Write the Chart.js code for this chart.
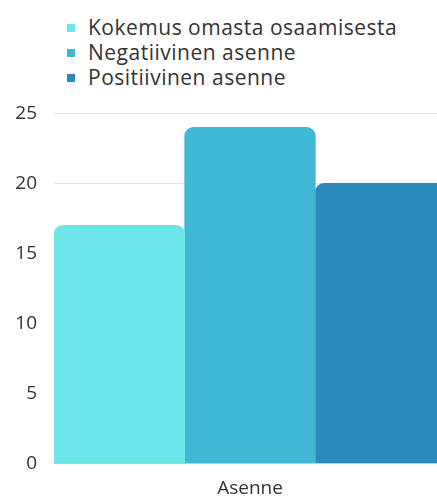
<!DOCTYPE html>
<html>
<head>
<meta charset="utf-8">
<script src="https://cdn.jsdelivr.net/npm/chart.js@4.4.0/dist/chart.umd.min.js"></script>
<style>
  html, body { margin: 0; padding: 0; background: #fff; overflow: hidden; width: 437px; height: 498px; }
  #legend { position: absolute; left: 67px; top: 15px; font-family: "Open Sans", sans-serif; font-size: 21px; letter-spacing: 0.5px; color: #333; line-height: 25px; }
  #legend .item { display: flex; align-items: center; white-space: nowrap; }
  #legend .box { width: 8px; height: 8px; margin-right: 13px; }
  #wrap { position: absolute; left: 0; top: 85px; width: 450px; height: 437px; }
</style>
</head>
<body>
<div id="legend"></div>
<div id="wrap"><canvas id="chart"></canvas></div>
<script>
const categories = ['Asenne'];
const seriesNames = ['Kokemus omasta osaamisesta', 'Negatiivinen asenne', 'Positiivinen asenne'];
const seriesValues = [[17], [24], [20]];
const seriesColors = ['#6ce6e8', '#41b7d6', '#2b8ab9'];
const yTicks = [0, 5, 10, 15, 20, 25];

// legend as plain html, one line per series
const legendEl = document.getElementById('legend');
seriesNames.forEach((name, i) => {
  const row = document.createElement('div');
  row.className = 'item';
  const box = document.createElement('span');
  box.className = 'box';
  box.style.background = seriesColors[i];
  const txt = document.createElement('span');
  txt.textContent = name;
  row.appendChild(box);
  row.appendChild(txt);
  legendEl.appendChild(row);
});

const ctx = document.getElementById('chart').getContext('2d');
new Chart(ctx, {
  type: 'bar',
  data: {
    labels: categories,
    datasets: seriesNames.map((name, i) => ({
      label: name,
      data: seriesValues[i],
      backgroundColor: seriesColors[i],
      borderRadius: { topLeft: 9, topRight: 9, bottomLeft: 0, bottomRight: 0 },
      borderSkipped: false,
      categoryPercentage: 1,
      barPercentage: 1
    }))
  },
  options: {
    responsive: true,
    maintainAspectRatio: false,
    animation: false,
    layout: { padding: { top: 21, right: 4, left: 0, bottom: 8 } },
    plugins: {
      legend: { display: false },
      tooltip: { enabled: false }
    },
    scales: {
      x: {
        grid: { display: false, drawTicks: false },
        border: { color: '#c8c8c8', width: 1 },
        ticks: { color: '#333', font: { family: '"Open Sans", sans-serif', size: 19 }, padding: 14 }
      },
      y: {
        min: yTicks[0],
        max: yTicks[yTicks.length - 1],
        afterBuildTicks: axis => { axis.ticks = yTicks.map(v => ({ value: v })); },
        afterFit: axis => { axis.width = 54; },
        grid: { color: '#e3e3e3', drawTicks: false },
        border: { display: false },
        ticks: { color: '#333', font: { family: '"Open Sans", sans-serif', size: 19 }, padding: 17 }
      }
    }
  }
});
</script>
</body>
</html>
